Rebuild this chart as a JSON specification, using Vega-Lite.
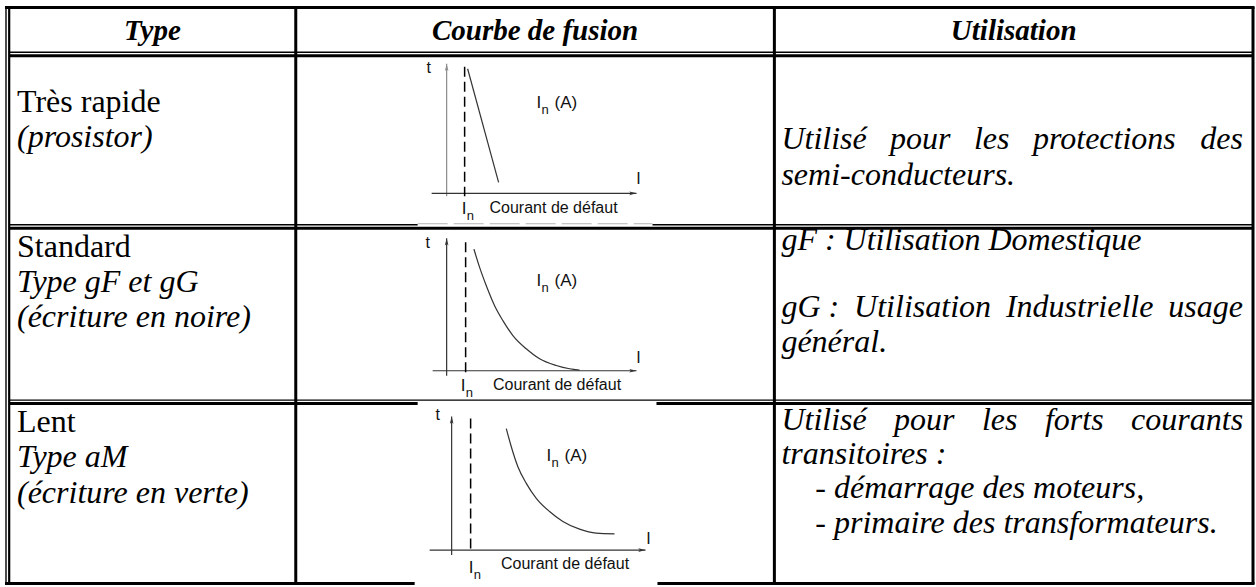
{
  "$schema": "https://vega.github.io/schema/vega-lite/v6.json",
  "width": 1256,
  "height": 587,
  "autosize": {"type": "fit", "contains": "padding"},
  "padding": 0,
  "background": "white",
  "config": {"view": {"stroke": null}},
  "datasets": {
    "grid": [
      {"kind": "thin", "x": 6, "y": 7, "x2": 6, "y2": 587},
      {"kind": "medium", "x": 9.2, "y": 7, "x2": 9.2, "y2": 587},
      {"kind": "thick", "x": 296, "y": 7, "x2": 296, "y2": 586},
      {"kind": "thick", "x": 775, "y": 7, "x2": 775, "y2": 586},
      {"kind": "thick", "x": 1254, "y": 7, "x2": 1254, "y2": 586},
      {"kind": "thick", "x": 5, "y": 7.5, "x2": 1255.5, "y2": 7.5},
      {"kind": "thin", "x": 9, "y": 52.5, "x2": 1255, "y2": 52.5},
      {"kind": "thick", "x": 9, "y": 56, "x2": 1255, "y2": 56},
      {"kind": "thin", "x": 9, "y": 225.5, "x2": 418, "y2": 225.5},
      {"kind": "grey", "x": 418, "y": 224.5, "x2": 653, "y2": 224.5},
      {"kind": "thin", "x": 653, "y": 225.5, "x2": 1255, "y2": 225.5},
      {"kind": "thick", "x": 9, "y": 229, "x2": 1255, "y2": 229},
      {"kind": "thin", "x": 9, "y": 401.5, "x2": 1255, "y2": 401.5},
      {"kind": "thick", "x": 9, "y": 405, "x2": 418, "y2": 405},
      {"kind": "thick", "x": 657, "y": 405, "x2": 1255, "y2": 405},
      {"kind": "thick", "x": 5, "y": 585.5, "x2": 415, "y2": 585.5},
      {"kind": "thick", "x": 658, "y": 585.5, "x2": 1255.5, "y2": 585.5}
    ],
    "axes": [
      {"chart": 1, "axis": "t", "x": 447, "y": 197, "x2": 447, "y2": 64},
      {"chart": 1, "axis": "i", "x": 432, "y": 194, "x2": 637, "y2": 194},
      {"chart": 2, "axis": "t", "x": 447, "y": 377, "x2": 447, "y2": 239},
      {"chart": 2, "axis": "i", "x": 433, "y": 372, "x2": 637, "y2": 372},
      {"chart": 3, "axis": "t", "x": 452, "y": 557, "x2": 452, "y2": 418},
      {"chart": 3, "axis": "i", "x": 430, "y": 552, "x2": 646, "y2": 552}
    ],
    "dash": [
      {"chart": 1, "x": 465, "y": 67, "y2": 197},
      {"chart": 2, "x": 466, "y": 243, "y2": 376},
      {"chart": 3, "x": 471, "y": 420, "y2": 553}
    ],
    "curve": [
      {"chart": 1, "x": 468, "y": 69},
      {"chart": 1, "x": 499, "y": 183},
      {"chart": 2, "x": 474.3, "y": 250},
      {"chart": 2, "x": 480, "y": 268.3},
      {"chart": 2, "x": 486.7, "y": 286.7},
      {"chart": 2, "x": 495, "y": 306.7},
      {"chart": 2, "x": 503.3, "y": 321.7},
      {"chart": 2, "x": 513.3, "y": 336.7},
      {"chart": 2, "x": 526.7, "y": 350},
      {"chart": 2, "x": 540, "y": 360},
      {"chart": 2, "x": 556.7, "y": 366.7},
      {"chart": 2, "x": 570, "y": 370},
      {"chart": 2, "x": 580, "y": 371.3},
      {"chart": 3, "x": 506.7, "y": 430},
      {"chart": 3, "x": 511.7, "y": 448.3},
      {"chart": 3, "x": 518.3, "y": 468.3},
      {"chart": 3, "x": 526.7, "y": 485},
      {"chart": 3, "x": 536.7, "y": 500},
      {"chart": 3, "x": 550, "y": 513.3},
      {"chart": 3, "x": 563.3, "y": 523.3},
      {"chart": 3, "x": 580, "y": 531},
      {"chart": 3, "x": 596.7, "y": 535},
      {"chart": 3, "x": 615, "y": 535.7}
    ],
    "words": [
      {"role": "head", "text": "Type", "x": 152.5, "y": 40},
      {"role": "head", "text": "Courbe de fusion", "x": 535.5, "y": 40},
      {"role": "head", "text": "Utilisation", "x": 1014.5, "y": 40},
      {"role": "reg", "text": "Très rapide", "x": 17, "y": 112},
      {"role": "reg", "text": "Standard", "x": 17, "y": 258},
      {"role": "reg", "text": "Lent", "x": 17, "y": 433},
      {"role": "ital", "text": "(prosistor)", "x": 17, "y": 148},
      {"role": "ital", "text": "Type gF et gG", "x": 17, "y": 293},
      {"role": "ital", "text": "(écriture en noire)", "x": 17, "y": 328},
      {"role": "ital", "text": "Type aM", "x": 17, "y": 469},
      {"role": "ital", "text": "(écriture en verte)", "x": 17, "y": 505},
      {"role": "ital", "text": "Utilisé", "x": 782, "y": 150},
      {"role": "ital", "text": "pour", "x": 890.8, "y": 150},
      {"role": "ital", "text": "les", "x": 974.7, "y": 150},
      {"role": "ital", "text": "protections", "x": 1033.8, "y": 150},
      {"role": "ital", "text": "des", "x": 1201.3, "y": 150},
      {"role": "ital", "text": "semi-conducteurs.", "x": 782, "y": 186},
      {"role": "ital", "text": "gF : Utilisation Domestique", "x": 782, "y": 251},
      {"role": "ital", "text": "gG :", "x": 782, "y": 318},
      {"role": "ital", "text": "Utilisation", "x": 854.8, "y": 318},
      {"role": "ital", "text": "Industrielle", "x": 1006.7, "y": 318},
      {"role": "ital", "text": "usage", "x": 1169.3, "y": 318},
      {"role": "ital", "text": "général.", "x": 782, "y": 353},
      {"role": "ital", "text": "Utilisé", "x": 782, "y": 431},
      {"role": "ital", "text": "pour", "x": 894.8, "y": 431},
      {"role": "ital", "text": "les", "x": 982.7, "y": 431},
      {"role": "ital", "text": "forts", "x": 1045.8, "y": 431},
      {"role": "ital", "text": "courants", "x": 1132, "y": 431},
      {"role": "ital", "text": "transitoires :", "x": 782, "y": 466},
      {"role": "ital", "text": "- démarrage des moteurs,", "x": 816, "y": 500},
      {"role": "ital", "text": "- primaire des transformateurs.", "x": 816, "y": 535}
    ],
    "labs": [
      {"chart": 1, "text": "t", "x": 429, "y": 68},
      {"chart": 1, "text": "I", "x": 639, "y": 180},
      {"chart": 1, "text": "Courant de défaut", "x": 554, "y": 209},
      {"chart": 2, "text": "t", "x": 428, "y": 244},
      {"chart": 2, "text": "I", "x": 639, "y": 359},
      {"chart": 2, "text": "Courant de défaut", "x": 557.5, "y": 386},
      {"chart": 3, "text": "t", "x": 438, "y": 416},
      {"chart": 3, "text": "I", "x": 649, "y": 541},
      {"chart": 3, "text": "Courant de défaut", "x": 565.5, "y": 566}
    ],
    "inlabs": [
      {"chart": 1, "main": "I", "sub": "n", "tail": "(A)", "x": 537, "y": 108},
      {"chart": 1, "main": "I", "sub": "n", "tail": "", "x": 462, "y": 215},
      {"chart": 2, "main": "I", "sub": "n", "tail": "(A)", "x": 537, "y": 287},
      {"chart": 2, "main": "I", "sub": "n", "tail": "", "x": 461, "y": 392},
      {"chart": 3, "main": "I", "sub": "n", "tail": "(A)", "x": 547, "y": 463},
      {"chart": 3, "main": "I", "sub": "n", "tail": "", "x": 469, "y": 575}
    ]
  },
  "encoding": {
    "x": {"field": "x", "type": "quantitative", "scale": {"domain": [0, 1256], "nice": false, "zero": false}, "axis": null},
    "y": {"field": "y", "type": "quantitative", "scale": {"domain": [0, 587], "reverse": true, "nice": false, "zero": false}, "axis": null}
  },
  "layer": [
    {
      "data": {"name": "grid"},
      "transform": [{"filter": "datum.kind == 'thick'"}],
      "mark": {"type": "rule", "color": "black", "strokeWidth": 3, "strokeCap": "butt"},
      "encoding": {"x2": {"field": "x2"}, "y2": {"field": "y2"}}
    },
    {
      "data": {"name": "grid"},
      "transform": [{"filter": "datum.kind == 'medium'"}],
      "mark": {"type": "rule", "color": "black", "strokeWidth": 2.2, "strokeCap": "butt"},
      "encoding": {"x2": {"field": "x2"}, "y2": {"field": "y2"}}
    },
    {
      "data": {"name": "grid"},
      "transform": [{"filter": "datum.kind == 'thin'"}],
      "mark": {"type": "rule", "color": "black", "strokeWidth": 1.4, "strokeCap": "butt"},
      "encoding": {"x2": {"field": "x2"}, "y2": {"field": "y2"}}
    },
    {
      "data": {"name": "grid"},
      "transform": [{"filter": "datum.kind == 'grey'"}],
      "mark": {"type": "rule", "color": "#b5b5b5", "strokeWidth": 1, "strokeDash": [30, 6], "strokeCap": "butt"},
      "encoding": {"x2": {"field": "x2"}, "y2": {"field": "y2"}}
    },
    {
      "data": {"name": "axes"},
      "mark": {"type": "rule", "strokeWidth": 1.2},
      "encoding": {
        "x2": {"field": "x2"},
        "y2": {"field": "y2"},
        "color": {"condition": {"test": "datum.chart == 1 && datum.axis == 't'", "value": "#8c8c8c"}, "value": "#333333"}
      }
    },
    {
      "data": {"name": "axes"},
      "transform": [{"filter": "datum.axis == 't'"}],
      "mark": {"type": "point", "filled": true, "opacity": 1, "size": 64, "shape": "M0,0L0.45,1.8L0,1.4L-0.45,1.8Z"},
      "encoding": {
        "x": {"field": "x2", "type": "quantitative"},
        "y": {"field": "y2", "type": "quantitative"},
        "color": {"condition": {"test": "datum.chart == 1", "value": "#8c8c8c"}, "value": "#333333"}
      }
    },
    {
      "data": {"name": "axes"},
      "transform": [{"filter": "datum.axis == 'i'"}],
      "mark": {"type": "point", "filled": true, "color": "#333333", "opacity": 1, "size": 64, "shape": "M0,0L-1.8,-0.45L-1.4,0L-1.8,0.45Z"},
      "encoding": {"x": {"field": "x2", "type": "quantitative"}, "y": {"field": "y2", "type": "quantitative"}}
    },
    {
      "data": {"name": "dash"},
      "mark": {"type": "rule", "color": "black", "strokeWidth": 1.5, "strokeDash": [10, 5]},
      "encoding": {"y2": {"field": "y2"}}
    },
    {
      "data": {"name": "curve"},
      "mark": {"type": "line", "color": "#333333", "strokeWidth": 1.2, "interpolate": "monotone"},
      "encoding": {"detail": {"field": "chart", "type": "nominal"}}
    },
    {
      "data": {"name": "words"},
      "transform": [{"filter": "datum.role == 'head'"}],
      "mark": {"type": "text", "font": "Liberation Serif", "fontSize": 29, "fontStyle": "italic", "fontWeight": "bold", "align": "center", "baseline": "alphabetic", "color": "black"},
      "encoding": {"text": {"field": "text"}}
    },
    {
      "data": {"name": "words"},
      "transform": [{"filter": "datum.role == 'reg'"}],
      "mark": {"type": "text", "font": "Liberation Serif", "fontSize": 32, "align": "left", "baseline": "alphabetic", "color": "black"},
      "encoding": {"text": {"field": "text"}}
    },
    {
      "data": {"name": "words"},
      "transform": [{"filter": "datum.role == 'ital'"}],
      "mark": {"type": "text", "font": "Liberation Serif", "fontSize": 32, "fontStyle": "italic", "align": "left", "baseline": "alphabetic", "color": "black"},
      "encoding": {"text": {"field": "text"}}
    },
    {
      "data": {"name": "labs"},
      "mark": {"type": "text", "font": "Liberation Sans", "fontSize": 16, "align": "center", "baseline": "middle", "color": "#111111"},
      "encoding": {"text": {"field": "text"}}
    },
    {
      "data": {"name": "inlabs"},
      "mark": {"type": "text", "font": "Liberation Sans", "fontSize": 17, "align": "left", "baseline": "alphabetic", "color": "#111111"},
      "encoding": {"text": {"field": "main"}}
    },
    {
      "data": {"name": "inlabs"},
      "mark": {"type": "text", "font": "Liberation Sans", "fontSize": 13, "align": "left", "baseline": "alphabetic", "color": "#111111", "dx": 5, "dy": 6},
      "encoding": {"text": {"field": "sub"}}
    },
    {
      "data": {"name": "inlabs"},
      "mark": {"type": "text", "font": "Liberation Sans", "fontSize": 17, "align": "left", "baseline": "alphabetic", "color": "#111111", "dx": 18},
      "encoding": {"text": {"field": "tail"}}
    }
  ]
}
